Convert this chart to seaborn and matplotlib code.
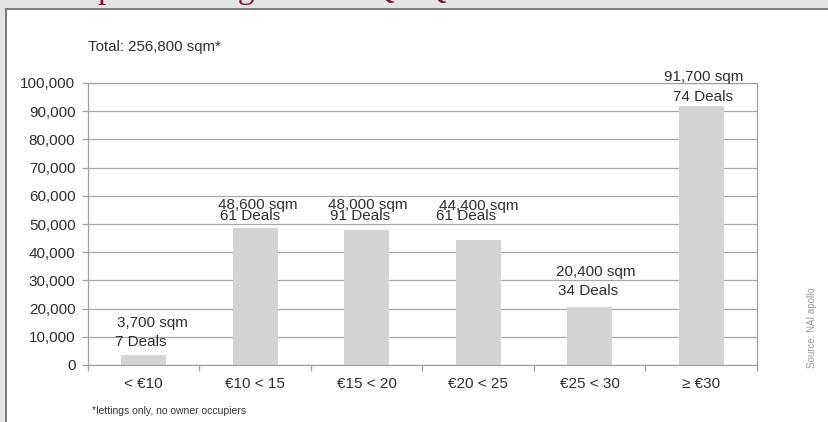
import matplotlib
matplotlib.use("Agg")
import matplotlib.pyplot as plt
import matplotlib.ticker as mticker
from matplotlib.patches import Rectangle
import numpy as np
import pandas as pd
import seaborn as sns

# Rent bands (EUR per sqm / month) and take-up per band
rent_bands = ["< €10", "€10 < 15", "€15 < 20", "€20 < 25", "€25 < 30", "≥ €30"]
take_up_sqm = [3700, 48600, 48000, 44400, 20400, 91700]
deal_counts = [7, 61, 91, 61, 34, 74]
total_label = "Total: 256,800 sqm*"
footnote = "*lettings only, no owner occupiers"
source = "Source: NAI apollo"
title = "Take-up according to rents Q1-Q3"
y_ticks = list(range(0, 100001, 10000))

# label placement (pixel offsets from the bar top: sqm line, deals line)
sqm_offsets = [(9, 32), (3, 23), (1, 25), (1, 34), (6, 35), (2, 29)]
deal_offsets = [(-3, 13), (-5, 12), (-7, 14), (-12, 24), (-2, 16), (2, 9)]

TEXT = "#2e2e2e"

sns.set_theme(style="white")
plt.rcParams["font.family"] = ["Liberation Sans", "DejaVu Sans"]

W, H = 829, 422
fig = plt.figure(figsize=(W / 100, H / 100), dpi=100)
fig.patch.set_facecolor("#e4e4e4")

# framed white panel
fig.patches.append(Rectangle((5 / W, 0), 1, (H - 8) / H, transform=fig.transFigure,
                             facecolor="#7c7c7c", edgecolor="none", zorder=-2))
fig.patches.append(Rectangle((7 / W, 0), 1, (H - 10) / H, transform=fig.transFigure,
                             facecolor="white", edgecolor="none", zorder=-1))

fig.text(6 / W, 1 + 2 / H, title, fontsize=24, family=["Liberation Serif", "DejaVu Serif"],
         color="#7d1b36", ha="left", va="baseline")

ax = fig.add_axes([88 / W, (H - 365) / H, (757 - 88) / W, (365 - 83) / H])
ax.set_zorder(2)
ax.set_facecolor("white")

df = pd.DataFrame({"band": rent_bands, "area": take_up_sqm})
sns.barplot(data=df, x="band", y="area", color="#d4d4d4", saturation=1,
            width=0.4, ax=ax, edgecolor="none")

ax.set_xlim(-0.5, len(rent_bands) - 0.5)
ax.set_ylim(0, 100000)
ax.set_yticks(y_ticks)
ax.yaxis.set_major_formatter(mticker.FuncFormatter(lambda v, p: f"{v:,.0f}"))
ax.set_xlabel("")
ax.set_ylabel("")

ax.yaxis.grid(True, color="#a8a8a8", lw=0.9)
ax.set_axisbelow(True)
for s in ["left", "bottom", "right", "top"]:
    ax.spines[s].set_color("#a0a0a0")
    ax.spines[s].set_linewidth(0.9)

ax.tick_params(axis="y", which="major", length=4, width=0.9, color="#a0a0a0",
               pad=5, labelsize=11, labelcolor=TEXT, left=True)
ax.set_xticks(np.arange(-0.5, len(rent_bands)), minor=True)
ax.tick_params(axis="x", which="minor", length=4, width=0.9, color="#a0a0a0", bottom=True)
ax.tick_params(axis="x", which="major", length=0, pad=9, labelsize=11, labelcolor=TEXT)

for i, (v, n) in enumerate(zip(take_up_sqm, deal_counts)):
    ax.annotate(f"{v:,} sqm", xy=(i, v), xytext=sqm_offsets[i], textcoords="offset pixels",
                ha="center", va="center", fontsize=11, color=TEXT)
    ax.annotate(f"{n} Deals", xy=(i, v), xytext=deal_offsets[i], textcoords="offset pixels",
                ha="center", va="center", fontsize=11, color=TEXT)

fig.text(88 / W, 1 - 47 / H, total_label, fontsize=10.8, color=TEXT, ha="left", va="center")
fig.text(92 / W, 1 - 411 / H, footnote, fontsize=7.5, color="#333333", ha="left", va="center")
fig.text(812 / W, 1 - 328 / H, source, fontsize=7, color="#9a9a9a", rotation=90,
         ha="center", va="center")

fig.savefig("out.png", dpi=100, facecolor=fig.get_facecolor())
